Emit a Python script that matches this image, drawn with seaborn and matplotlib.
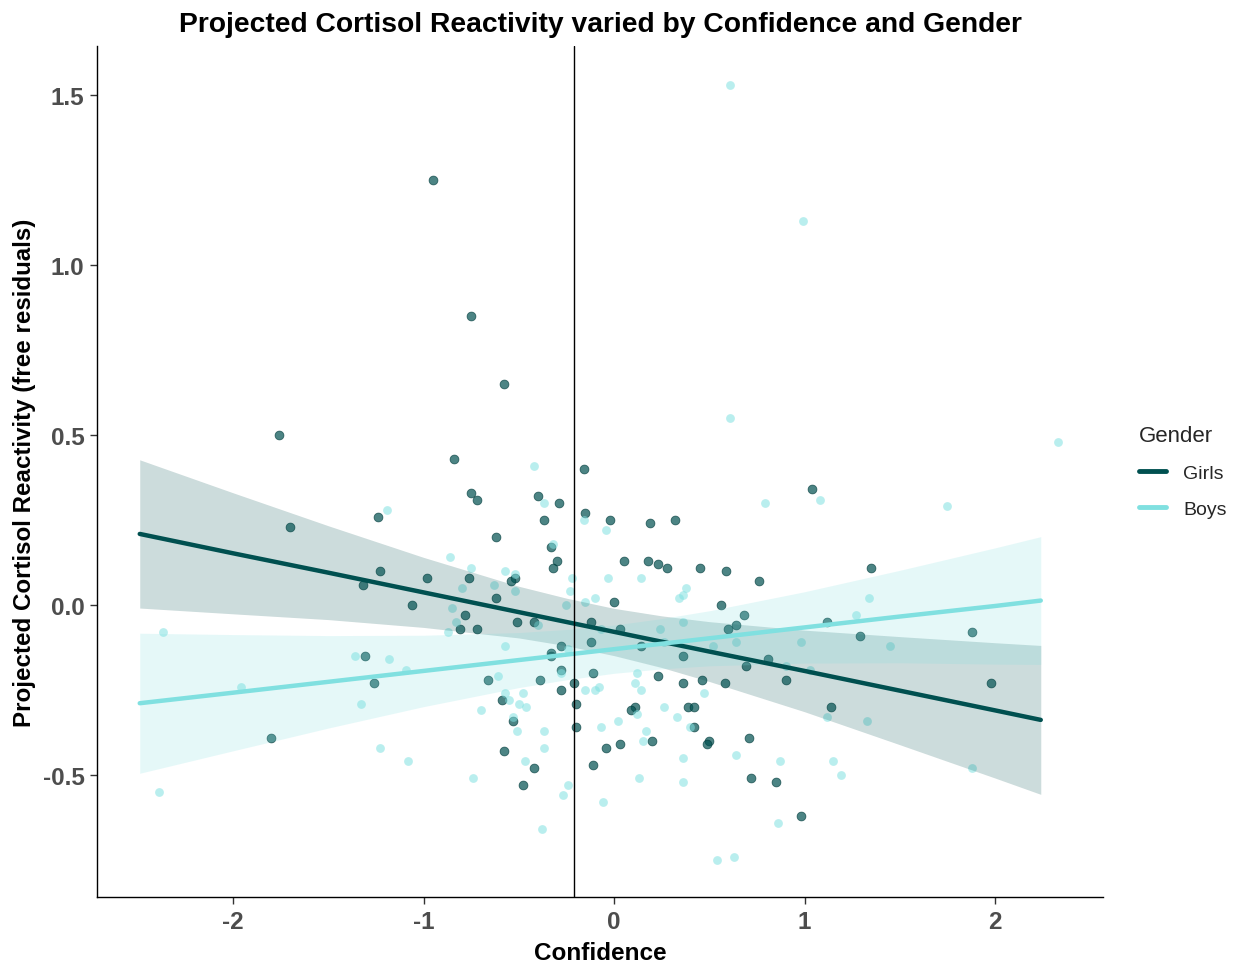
import numpy as np
import pandas as pd
import matplotlib
matplotlib.use("Agg")
import matplotlib.pyplot as plt
import seaborn as sns

# ── Farben / Stil ────────────────────────────────────────────
GIRLS = "#005050"
BOYS = "#80E0E0"

sns.set_theme(style="ticks")
plt.rcParams["font.family"] = ["Liberation Sans", "DejaVu Sans"]

# ── Daten ────────────────────────────────────────────────────
girls_x = [-1.76, -1.24, -1.70, -1.23, -1.32, -1.31, -1.26, -1.80, -0.95, -0.75,
           -0.58, -0.84, -0.75, -0.72, -0.40, -0.29, -0.37, -0.62, -0.33, -0.30,
           -0.32, -0.98, -0.76, -0.52, -0.54, -0.62, -1.06, -0.78, -0.51, -0.42,
           -0.81, -0.72, -0.28, -0.33, -0.33, -0.66, -0.39, -0.28, -0.21, -0.28,
           -0.59, -0.20, -0.53, -0.20, -0.58, -0.42, -0.48, -0.16, -0.15, -0.02,
           0.19, 0.32, 0.05, 0.18, 0.23, 0.28, 0.45, 0.59, 0.76, 0.00,
           0.56, 0.68, 0.64, 0.60, -0.12, 0.03, -0.12, 0.14, 0.36, 0.81,
           0.69, -0.11, 0.23, 0.36, 0.46, 0.58, 0.90, 0.11, 0.09, 0.39,
           0.42, 0.42, 0.20, -0.04, 0.03, 0.50, 0.49, 0.71, -0.11, 0.72,
           0.85, 0.98, 1.04, 1.35, 1.12, 1.29, 1.88, 1.98, 1.14]
girls_y = [0.50, 0.26, 0.23, 0.10, 0.06, -0.15, -0.23, -0.39, 1.25, 0.85,
           0.65, 0.43, 0.33, 0.31, 0.32, 0.30, 0.25, 0.20, 0.17, 0.13,
           0.11, 0.08, 0.08, 0.08, 0.07, 0.02, 0.00, -0.03, -0.05, -0.05,
           -0.07, -0.07, -0.12, -0.14, -0.15, -0.22, -0.22, -0.19, -0.23, -0.25,
           -0.28, -0.29, -0.34, -0.36, -0.43, -0.48, -0.53, 0.40, 0.27, 0.25,
           0.24, 0.25, 0.13, 0.13, 0.12, 0.11, 0.11, 0.10, 0.07, 0.01,
           0.00, -0.03, -0.06, -0.07, -0.05, -0.07, -0.11, -0.12, -0.15, -0.16,
           -0.18, -0.20, -0.21, -0.23, -0.22, -0.23, -0.22, -0.30, -0.31, -0.30,
           -0.30, -0.36, -0.40, -0.42, -0.41, -0.40, -0.41, -0.39, -0.47, -0.51,
           -0.52, -0.62, 0.34, 0.11, -0.05, -0.09, -0.08, -0.23, -0.30]

boys_x = [-1.19, -2.37, -1.36, -1.18, -1.96, -1.33, -1.23, -2.39, -0.42, -0.37,
          -0.32, -0.86, -0.75, -0.57, -0.52, -0.22, -0.80, -0.63, -0.52, -0.23,
          -0.25, -0.85, -0.83, -0.40, -0.87, -0.57, -0.24, -1.09, -0.61, -0.28,
          -0.57, -0.48, -0.55, -0.50, -0.46, -0.70, -0.53, -0.51, -0.37, -0.37,
          -1.08, -0.47, -0.74, -0.24, -0.27, -0.38, 0.79, -0.16, -0.04, -0.03,
          0.14, 0.38, 0.36, 0.34, -0.15, -0.10, 0.36, -0.07, 0.24, 0.26,
          0.52, 0.64, 0.98, 0.90, 0.12, 0.11, 0.14, -0.15, -0.10, -0.08,
          0.47, 0.12, 0.26, 0.02, 0.33, -0.07, 0.40, 0.17, 0.15, 0.64,
          0.87, 0.36, 0.13, 0.36, -0.06, 0.86, 0.54, 0.63, 2.33, 1.08,
          1.75, 1.34, 1.27, 1.45, 1.03, 1.12, 1.33, 1.15, 1.19, 1.88,
          0.61, 0.99, 0.61]
boys_y = [0.28, -0.08, -0.15, -0.16, -0.24, -0.29, -0.42, -0.55, 0.41, 0.30,
          0.18, 0.14, 0.11, 0.10, 0.09, 0.08, 0.05, 0.06, 0.04, 0.04,
          0.00, -0.01, -0.05, -0.06, -0.08, -0.12, -0.13, -0.19, -0.21, -0.20,
          -0.26, -0.26, -0.28, -0.29, -0.30, -0.31, -0.33, -0.37, -0.37, -0.42,
          -0.46, -0.46, -0.51, -0.53, -0.56, -0.66, 0.30, 0.25, 0.22, 0.08,
          0.08, 0.05, 0.03, 0.02, 0.01, 0.02, -0.05, -0.07, -0.07, -0.11,
          -0.12, -0.11, -0.11, -0.18, -0.20, -0.23, -0.25, -0.25, -0.25, -0.24,
          -0.26, -0.32, -0.30, -0.34, -0.33, -0.36, -0.36, -0.37, -0.40, -0.44,
          -0.46, -0.45, -0.51, -0.52, -0.58, -0.64, -0.75, -0.74, 0.48, 0.31,
          0.29, 0.02, -0.03, -0.12, -0.19, -0.33, -0.34, -0.46, -0.50, -0.48,
          1.53, 1.13, 0.55]

# Vorhersagelinien + Konfidenzband
fit_x = [-2.49, -2.0, -1.5, -1.0, -0.5, -0.25, 0.0, 0.25, 0.5, 1.0, 1.5, 2.0, 2.24]
girls_fit = [0.209, 0.152, 0.095, 0.037, -0.021, -0.050, -0.079, -0.108, -0.137, -0.194, -0.252, -0.310, -0.338]
girls_hi = [0.427, 0.330, 0.233, 0.140, 0.055, 0.020, -0.010, -0.032, -0.049, -0.074, -0.093, -0.111, -0.119]
girls_lo = [-0.009, -0.026, -0.043, -0.066, -0.097, -0.120, -0.149, -0.184, -0.225, -0.314, -0.411, -0.509, -0.557]
boys_fit = [-0.289, -0.258, -0.226, -0.194, -0.162, -0.146, -0.130, -0.114, -0.098, -0.066, -0.034, -0.003, 0.013]
boys_hi = [-0.083, -0.087, -0.090, -0.089, -0.081, -0.072, -0.059, -0.040, -0.017, 0.039, 0.102, 0.168, 0.201]
boys_lo = [-0.495, -0.429, -0.362, -0.299, -0.243, -0.220, -0.201, -0.188, -0.179, -0.171, -0.170, -0.174, -0.175]

mean_conf = -0.21

points = pd.concat([
    pd.DataFrame({"Confidence": girls_x, "Cortisol": girls_y, "Gender": "Girls"}),
    pd.DataFrame({"Confidence": boys_x, "Cortisol": boys_y, "Gender": "Boys"}),
], ignore_index=True)

# ── Plot ─────────────────────────────────────────────────────
fig = plt.figure(figsize=(12.38, 9.70), dpi=100)
ax = fig.add_axes([0.0784, 0.0742, 0.8126, 0.8773])

sns.scatterplot(data=points[points.Gender == "Girls"], x="Confidence", y="Cortisol",
                color=GIRLS, alpha=0.7, s=40, linewidth=0.6, edgecolor="#003C3C",
                ax=ax, legend=False, zorder=2)
sns.scatterplot(data=points[points.Gender == "Boys"], x="Confidence", y="Cortisol",
                color=BOYS, alpha=0.55, s=40, linewidth=0, ax=ax, legend=False, zorder=2)

ax.fill_between(fit_x, girls_lo, girls_hi, color=GIRLS, alpha=0.2, linewidth=0, zorder=3)
ax.fill_between(fit_x, boys_lo, boys_hi, color=BOYS, alpha=0.2, linewidth=0, zorder=3)
sns.lineplot(x=fit_x, y=girls_fit, color=GIRLS, lw=3.2, ax=ax, zorder=4)
sns.lineplot(x=fit_x, y=boys_fit, color=BOYS, lw=3.2, ax=ax, zorder=4)

ax.axvline(mean_conf, color="black", lw=1, zorder=5)

ax.set_xlim(-2.714, 2.567)
ax.set_ylim(-0.859, 1.644)
ax.set_xticks([-2, -1, 0, 1, 2])
ax.set_xticklabels(["-2", "-1", "0", "1", "2"])
ax.set_yticks([-0.5, 0.0, 0.5, 1.0, 1.5])
ax.set_yticklabels(["-0.5", "0.0", "0.5", "1.0", "1.5"])

for side in ["top", "right"]:
    ax.spines[side].set_visible(False)
for side in ["left", "bottom"]:
    ax.spines[side].set_color("black")
    ax.spines[side].set_linewidth(1)
ax.tick_params(axis="both", length=5, width=1, color="#333333", pad=4,
               labelsize=17.5, labelcolor="#4D4D4D")
for lab in ax.get_xticklabels() + ax.get_yticklabels():
    lab.set_fontweight("bold")

ax.set_title("Projected Cortisol Reactivity varied by Confidence and Gender",
             fontsize=20.3, fontweight="bold", color="black", pad=11)
ax.set_xlabel("Confidence", fontsize=17.5, fontweight="bold", color="black", labelpad=6)
ax.set_ylabel("Projected Cortisol Reactivity (free residuals)", fontsize=17.4,
              fontweight="bold", color="black", labelpad=5)

handles = [plt.Line2D([], [], color=GIRLS, lw=3.5), plt.Line2D([], [], color=BOYS, lw=3.5)]
leg = ax.legend(handles, ["Girls", "Boys"], title="Gender", loc="center left",
                bbox_to_anchor=(1.02, 0.5), frameon=False, fontsize=14,
                title_fontsize=16, handlelength=1.4, handletextpad=0.9,
                labelspacing=0.95, borderpad=0.3, alignment="left")

fig.savefig("out.png", dpi=100)
